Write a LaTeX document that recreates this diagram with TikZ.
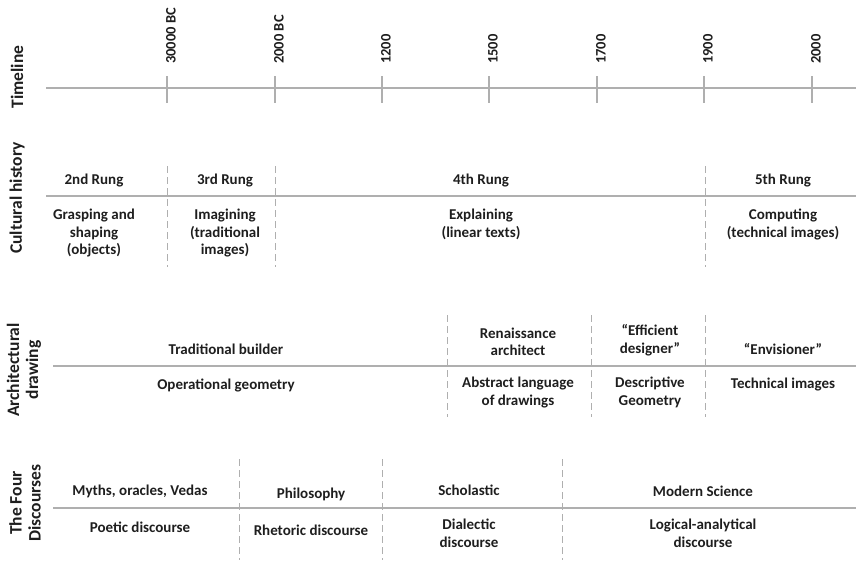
\documentclass[tikz,border=0pt]{standalone}
\usepackage{fontspec}
\setmainfont{Carlito}
\usepackage{tikz}

\definecolor{rulegray}{RGB}{175,175,175}
\definecolor{inkgray}{RGB}{30,30,30}

\tikzset{
  rowtitle/.style={rotate=90,font=\bfseries\fontsize{17.5}{19}\selectfont,text=inkgray,align=center},
  yearlabel/.style={rotate=90,anchor=west,font=\bfseries\fontsize{14.5}{17}\selectfont,text=inkgray,inner sep=0pt},
  cell/.style={font=\bfseries\fontsize{15}{17.5}\selectfont,text=inkgray,align=center,inner sep=1pt},
  rowline/.style={rulegray,line width=1.1pt},
  sepline/.style={rulegray,line width=0.9pt,dash pattern=on 7pt off 4pt},
}

\begin{document}
\begin{tikzpicture}[x=1pt,y=-1pt]
 \useasboundingbox (0,0) rectangle (856,560);

 % timeline
 \node[rowtitle] (tTimeline) at (17,77) {Timeline};
 \draw[rowline] (46,88) -- (856,88);
 \foreach \xx/\yr in {167/30000 BC,275/2000 BC,382/1200,489/1500,597/1700,704/1900,812/2000}{
   \draw[rowline] (\xx,76) -- (\xx,103);
   \node[yearlabel] (y\xx) at (\xx+4,64) {\yr};
 }

 % cultural history
 \node[rowtitle] (tCulture) at (17,198) {Cultural history};
 \draw[rowline] (46,196) -- (856,196);
 \draw[sepline] (167,166) -- (167,267);
 \draw[sepline] (275,166) -- (275,267);
 \draw[sepline] (705,166) -- (705,267);
 \node[cell] (rung2) at (94,181) {2nd Rung};
 \node[cell] (rung3) at (225,181) {3rd Rung};
 \node[cell] (rung4) at (481,181) {4th Rung};
 \node[cell] (rung5) at (783,181) {5th Rung};
 \node[cell,anchor=north] (grasp) at (94,208) {Grasping and\\shaping\\(objects)};
 \node[cell,anchor=north] (imag) at (225,208) {Imagining\\(traditional\\images)};
 \node[cell,anchor=north] (expl) at (481,208) {Explaining\\(linear texts)};
 \node[cell,anchor=north] (comp) at (783,208) {Computing\\(technical images)};

 % architectural drawing
 \node[rowtitle] (tArch) at (24,370) {Architectural\\drawing};
 \draw[rowline] (53,366) -- (856,366);
 \draw[sepline] (447,315) -- (447,417);
 \draw[sepline] (591,315) -- (591,417);
 \draw[sepline] (705,315) -- (705,417);
 \node[cell] (builder) at (226,349) {Traditional builder};
 \node[cell] (opgeo) at (226,385) {Operational geometry};
 \node[cell,anchor=south] (renarch) at (518,357) {Renaissance\\architect};
 \node[cell,anchor=south] (effdes) at (650,357) {“Efficient\\designer”};
 \node[cell] (envis) at (783,349) {“Envisioner”};
 \node[cell,anchor=north] (abstr) at (518,376) {Abstract language\\of drawings};
 \node[cell,anchor=north] (descr) at (650,376) {Descriptive\\Geometry};
 \node[cell] (techimg) at (783,385) {Technical images};

 % four discourses
 \node[rowtitle] (tDisc) at (25,503) {The Four\\Discourses};
 \draw[rowline] (53,508) -- (856,508);
 \draw[sepline] (239,459) -- (239,560);
 \draw[sepline] (382,459) -- (382,560);
 \draw[sepline] (562,459) -- (562,560);
 \node[cell] (myths) at (140,491) {Myths, oracles, Vedas};
 \node[cell] (philo) at (311,494) {Philosophy};
 \node[cell] (schol) at (469,490) {Scholastic};
 \node[cell] (modsci) at (703,491) {Modern Science};
 \node[cell] (poetic) at (140,527) {Poetic discourse};
 \node[cell] (rhet) at (311,530) {Rhetoric discourse};
 \node[cell,anchor=north] (dial) at (469,518) {Dialectic\\discourse};
 \node[cell,anchor=north] (logic) at (703,518) {Logical-analytical\\discourse};
\end{tikzpicture}
\end{document}
